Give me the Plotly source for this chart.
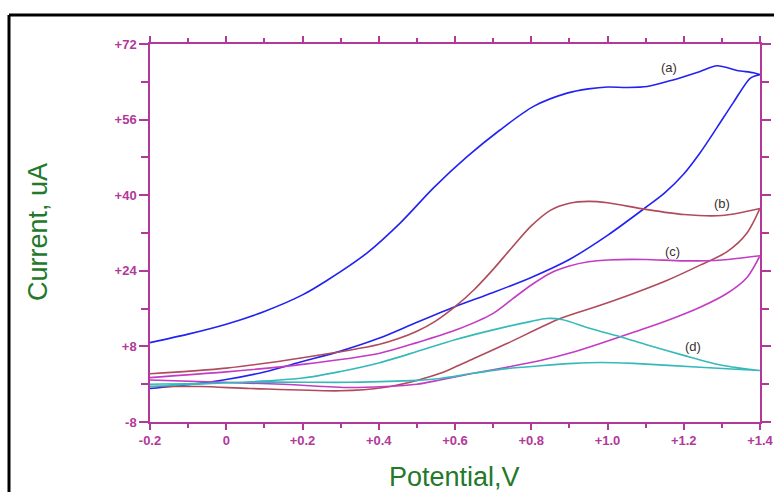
import plotly.graph_objects as go

# ---- data (potential in V, current in uA) ----
a_fwd_x = [-0.2, -0.1, 0.0, 0.1, 0.2, 0.265, 0.368, 0.456, 0.543, 0.631, 0.718, 0.806, 0.894, 0.95, 1.0, 1.05, 1.104, 1.172, 1.243, 1.287, 1.34, 1.383, 1.4]
a_fwd_y = [8.8, 10.6, 12.7, 15.4, 18.9, 22.0, 27.7, 34.1, 41.5, 48.1, 53.8, 58.8, 61.6, 62.5, 62.9, 62.8, 63.0, 64.4, 66.2, 67.4, 66.4, 65.9, 65.5]
a_rev_x = [1.4, 1.375, 1.33, 1.287, 1.243, 1.2, 1.15, 1.1, 1.0, 0.9, 0.8, 0.7, 0.6, 0.5, 0.4, 0.3, 0.2, 0.1, 0.0, -0.1, -0.2]
a_rev_y = [65.5, 64.8, 59.6, 54.3, 49.0, 44.5, 40.5, 37.4, 31.5, 26.4, 22.6, 19.4, 16.4, 13.1, 9.7, 7.0, 4.8, 2.6, 1.0, -0.1, -0.9]

b_fwd_x = [-0.2, 0.0, 0.2, 0.4, 0.45, 0.5, 0.55, 0.6, 0.65, 0.7, 0.75, 0.8, 0.85, 0.9, 0.95, 1.0, 1.1, 1.2, 1.3, 1.4]
b_fwd_y = [2.2, 3.4, 5.6, 8.4, 9.6, 11.2, 13.4, 16.4, 20.0, 24.3, 29.0, 33.5, 36.8, 38.3, 38.7, 38.4, 37.0, 35.9, 35.7, 37.2]
b_rev_x = [1.4, 1.366, 1.313, 1.243, 1.157, 1.068, 0.981, 0.876, 0.736, 0.648, 0.561, 0.5, 0.413, 0.3, 0.062, -0.069, -0.2]
b_rev_y = [37.2, 32.0, 28.0, 25.2, 22.0, 19.2, 16.7, 13.9, 8.6, 5.4, 2.3, 0.8, -0.7, -1.4, -0.9, -0.5, -0.5]

c_fwd_x = [-0.2, 0.0, 0.2, 0.4, 0.5, 0.6, 0.7, 0.75, 0.8, 0.85, 0.9, 0.95, 1.0, 1.1, 1.2, 1.3, 1.4]
c_fwd_y = [1.4, 2.6, 4.2, 6.5, 8.8, 11.4, 15.0, 18.0, 21.0, 23.5, 25.0, 25.9, 26.3, 26.4, 26.1, 26.3, 27.2]
c_rev_x = [1.4, 1.366, 1.313, 1.243, 1.157, 1.068, 0.981, 0.911, 0.824, 0.736, 0.648, 0.561, 0.5, 0.325, 0.15, -0.2]
c_rev_y = [27.2, 22.6, 19.2, 16.3, 13.5, 11.0, 8.6, 6.8, 5.0, 3.6, 2.3, 0.9, 0.0, -0.7, 0.0, 0.9]

d_fwd_x = [-0.2, 0.0, 0.2, 0.3, 0.4, 0.5, 0.6, 0.7, 0.8, 0.84, 0.88, 0.955, 1.04, 1.1, 1.2, 1.3, 1.4]
d_fwd_y = [0.0, 0.3, 1.3, 2.7, 4.5, 6.9, 9.4, 11.5, 13.3, 13.9, 13.7, 11.8, 9.9, 8.4, 6.1, 4.0, 2.9]
d_rev_x = [1.4, 1.243, 1.068, 0.981, 0.911, 0.824, 0.736, 0.648, 0.561, 0.5, 0.325, 0.062, -0.2]
d_rev_y = [2.9, 3.6, 4.4, 4.6, 4.4, 3.9, 3.3, 2.3, 1.2, 0.8, 0.4, 0.4, -0.5]

curve_names = ["(a)", "(b)", "(c)", "(d)"]
curve_colors = ["#2222F2", "#B04B5C", "#C23CC4", "#35B9BA"]
label_x = [1.16, 1.30, 1.17, 1.225]
label_y = [67.0, 38.3, 28.0, 8.0]

x_tickvals = [-0.2, 0.0, 0.2, 0.4, 0.6, 0.8, 1.0, 1.2, 1.4]
x_ticktext = ["-0.2", "0", "+0.2", "+0.4", "+0.6", "+0.8", "+1.0", "+1.2", "+1.4"]
y_tickvals = [-8, 8, 24, 40, 56, 72]
y_ticktext = ["-8", "+8", "+24", "+40", "+56", "+72"]

curves = [
    (a_fwd_x + a_rev_x, a_fwd_y + a_rev_y),
    (b_fwd_x + b_rev_x, b_fwd_y + b_rev_y),
    (c_fwd_x + c_rev_x, c_fwd_y + c_rev_y),
    (d_fwd_x + d_rev_x, d_fwd_y + d_rev_y),
]

axis_color = "#B2399A"
title_color = "#23782A"

fig = go.Figure()
for (xs, ys), name, col in zip(curves, curve_names, curve_colors):
    fig.add_trace(go.Scatter(x=xs, y=ys, mode="lines", name=name,
                             line=dict(color=col, width=1.6, shape="spline", smoothing=0.8),
                             showlegend=False))

for name, lx, ly in zip(curve_names, label_x, label_y):
    fig.add_annotation(x=lx, y=ly, text=name, showarrow=False,
                       font=dict(family="Liberation Sans, Arial", size=13, color="#3a3030"))

# axis titles
fig.add_annotation(xref="paper", yref="paper", x=(454 - 150) / 610, y=(422 - 477) / 378,
                   xanchor="center", yanchor="middle",
                   text="Potential,V", showarrow=False,
                   font=dict(family="Liberation Sans, Arial", size=27, color=title_color))
fig.add_annotation(xref="paper", yref="paper", x=(38 - 150) / 610, y=(422 - 232) / 378,
                   xanchor="center", yanchor="middle",
                   text="Current, uA", showarrow=False, textangle=-90,
                   font=dict(family="Liberation Sans, Arial", size=27, color=title_color))

# outer black frame lines
fig.add_shape(type="line", xref="paper", yref="paper",
              x0=(9 - 150) / 610, x1=(776 - 150) / 610, y0=(422 - 15) / 378, y1=(422 - 15) / 378,
              line=dict(color="black", width=3))
fig.add_shape(type="line", xref="paper", yref="paper",
              x0=(9 - 150) / 610, x1=(9 - 150) / 610, y0=(422 - 15) / 378, y1=(422 - 494) / 378,
              line=dict(color="black", width=3))

tickfont = dict(family="Liberation Sans, Arial", size=13, color=axis_color, weight="bold")

fig.update_xaxes(range=[-0.2, 1.4], showgrid=False, zeroline=False, automargin=False,
                 showline=True, linecolor=axis_color, linewidth=1.5, mirror="ticks",
                 ticks="outside", ticklen=6, tickwidth=1.5, tickcolor=axis_color,
                 tickvals=x_tickvals, ticktext=x_ticktext, tickfont=tickfont,
                 minor=dict(dtick=0.1, tick0=-0.2, ticks="outside", ticklen=4,
                            tickwidth=1.5, tickcolor=axis_color, showgrid=False))
fig.update_yaxes(range=[-8, 72], showgrid=False, zeroline=False, automargin=False,
                 showline=True, linecolor=axis_color, linewidth=1.5, mirror="ticks",
                 ticks="outside", ticklen=9, tickwidth=1.5, tickcolor=axis_color,
                 tickvals=y_tickvals, ticktext=y_ticktext, tickfont=tickfont,
                 minor=dict(dtick=8, tick0=-8, ticks="outside", ticklen=7,
                            tickwidth=1.5, tickcolor=axis_color, showgrid=False))

fig.update_layout(width=774, height=492,
                  margin=dict(l=150, r=14, t=44, b=70),
                  paper_bgcolor="white", plot_bgcolor="white",
                  showlegend=False)

fig.write_html("out.html")
